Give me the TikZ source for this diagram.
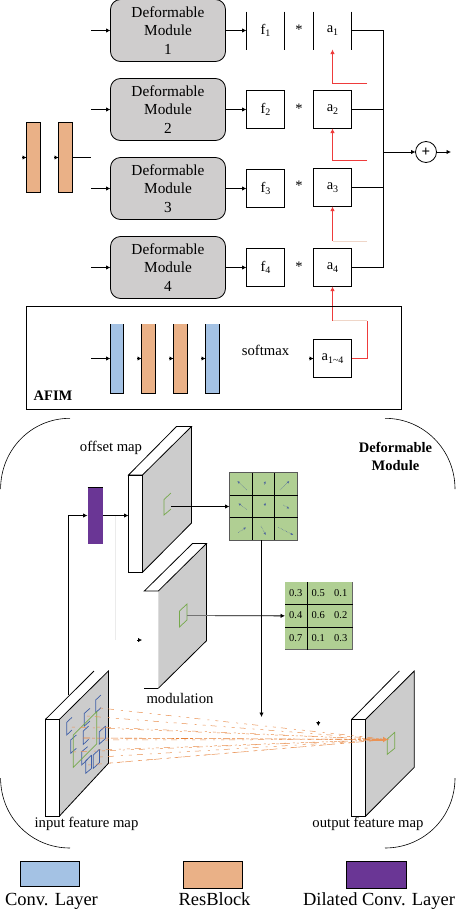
\documentclass[tikz,border=0pt]{standalone}
\usepackage{fontspec}
\setmainfont{Liberation Serif}
\usetikzlibrary{arrows.meta}
\definecolor{modgray}{HTML}{CFCDCD}
\definecolor{mapgray}{HTML}{CCCCCC}
\definecolor{barblue}{HTML}{A4C2E4}
\definecolor{barorange}{HTML}{EAB187}
\definecolor{barpurple}{HTML}{6A3695}
\definecolor{gridgreen}{HTML}{B0CF93}
\definecolor{sqgreen}{HTML}{76A94C}
\definecolor{sqblue}{HTML}{3F5FA8}
\definecolor{redline}{HTML}{EE3B3B}
\definecolor{paleline}{HTML}{EFD6C8}
\definecolor{rayorange}{HTML}{E67F36}
\newcommand\sbs[1]{\raisebox{-2.5pt}{\fontsize{10}{10}\selectfont #1}}
\tikzset{
  every node/.style={inner sep=0pt,outer sep=0pt},
  ln/.style={line width=0.8pt,black},
  arr/.style={ln,-{Latex[length=4.5pt,width=4.5pt]}},
  redarr/.style={line width=0.8pt,redline,-{Latex[length=4.5pt,width=4.5pt]}},
  redln/.style={line width=0.8pt,redline},
  tiponly/.style={ln,-{Latex[length=4pt,width=4.5pt]}},
  defmod/.style={draw=black,line width=0.8pt,fill=modgray,rounded corners=10pt,minimum width=115pt,minimum height=62pt,align=center,font=\fontsize{15.3}{18.3}\selectfont},
  valbox/.style={draw=black,line width=0.8pt,fill=white,minimum width=38pt,minimum height=38pt,font=\fontsize{14.5}{16}\selectfont},
  openbox/.style={minimum width=38pt,minimum height=38pt,font=\fontsize{14.5}{16}\selectfont},
  opstar/.style={font=\fontsize{14.5}{16}\selectfont},
  bar/.style={minimum width=14pt,minimum height=70pt},
  face/.style={draw=black,line width=0.8pt,fill=white,minimum width=14pt},
  lab/.style={font=\fontsize{14.7}{16}\selectfont},
  biglab/.style={font=\fontsize{18.5}{20}\selectfont,anchor=base},
  side/.style={fill=mapgray,draw=none},
  cellval/.style={font=\fontsize{10.5}{12}\selectfont},
  gridcell/.style={fill=gridgreen,minimum width=68pt,minimum height=67.7pt},
  bluesq/.style={line width=0.7pt,sqblue},
  greensq/.style={line width=0.7pt,sqgreen},
  ray/.style={line width=0.5pt,rayorange!85,dash pattern=on 3pt off 5pt on 6pt off 7pt on 2pt off 6pt},
  offs/.style={line width=0.5pt,sqblue!70!gray,densely dotted,-{Latex[length=2.5pt,width=2.5pt]}},
}
\begin{document}
\begin{tikzpicture}[x=1pt,y=-1pt]
\useasboundingbox (0,0) rectangle (456,910);
\fill[white] (0,0) rectangle (456,910);

% ---- deformable modules
\node[defmod] (dm1) at (168,30.5) {Deformable\\Module\\1};
\node[defmod] (dm2) at (168,109.5) {Deformable\\Module\\2};
\node[defmod] (dm3) at (168,188.5) {Deformable\\Module\\3};
\node[defmod] (dm4) at (168,267.5) {Deformable\\Module\\4};

\node[openbox] (f1) at (265.5,30.5) {f\sbs{1}};
\node[openbox] (a1) at (332.5,30.5) {a\sbs{1}};
\draw[ln] (f1.north west)--(f1.south west) (f1.north east)--(f1.south east);
\draw[ln] (a1.north west)--(a1.south west) (a1.north east)--(a1.south east);
\node[valbox] (f2) at (265.5,109.5) {f\sbs{2}};
\node[valbox] (a2) at (332.5,109.5) {a\sbs{2}};
\node[valbox] (f3) at (265.5,188.5) {f\sbs{3}};
\node[valbox] (a3) at (332.5,187.5) {a\sbs{3}};
\node[valbox] (f4) at (265.5,267.5) {f\sbs{4}};
\node[valbox] (a4) at (332.5,267.5) {a\sbs{4}};
\node[opstar] (s1) at (299,30) {*};
\node[opstar] (s2) at (299,109) {*};
\node[opstar] (s3) at (299,186) {*};
\node[opstar] (s4) at (299,267) {*};

\foreach \i in {1,2,3,4}{
  \draw[arr] (dm\i.east) -- (f\i.west);
}
\coordinate (in1) at (91,30.5);
\coordinate (in2) at (91,109.5);
\coordinate (in3) at (91,188.5);
\coordinate (in4) at (91,267.5);
\foreach \i in {1,2,3,4}{
  \draw[arr] (in\i) -- (dm\i.west);
}

% ---- sum
\node[draw=black,line width=0.8pt,circle,minimum size=21pt,font=\fontsize{15}{15}\selectfont\bfseries] (sum) at (426,152) {+};
\coordinate (bus1) at (383,30.5);
\coordinate (bus4) at (383,267.5);
\coordinate (busS) at (383,152);
\coordinate (outS) at (451,152);
\draw[ln] (a1.east) -- (bus1) -- (bus4) -- (a4.east);
\draw[ln] (a2.east) -- (a2.east -| bus1);
\draw[ln] (a3.east) -- (a3.east -| bus1);
\draw[arr] (busS) -- (sum.west);
\draw[arr] (sum.east) -- (outS);

% ---- red attention links
\coordinate (r1) at (367,83);
\coordinate (r1b) at (332.5,83);
\coordinate (r2) at (367,160.5);
\coordinate (r2b) at (332.5,160.5);
\coordinate (r3) at (367,241);
\coordinate (r3b) at (332.5,241);
\coordinate (r4b) at (332.5,320.5);
\coordinate (r4) at (367,320.5);
\draw[redarr] (r1) -- (r1b) -- (a1.south);
\draw[redarr] (r2) -- (r2b) -- (a2.south);
\draw[line width=0.8pt,paleline] (r3) -- (r3b);
\draw[redarr] (r3b) -- (a3.south);
\draw[redarr] (r4b) -- (a4.south);

% ---- left resblocks
\node[bar,fill=barorange,draw=black,line width=0.8pt] (lb1) at (33.5,157.5) {};
\node[bar,fill=barorange,draw=black,line width=0.8pt] (lb2) at (65.5,157.5) {};
\coordinate (lbT1) at (22,157.5);
\coordinate (lbT2) at (54,157.5);
\coordinate (lbE) at (91,157.5);
\draw[tiponly] (lbT1) -- (lb1.west);
\draw[tiponly] (lbT2) -- (lb2.west);
\draw[ln] (lb2.east) -- (lbE);

% ---- AFIM
\node[draw=black,line width=0.8pt,minimum width=375pt,minimum height=103pt] (afim) at (214,358) {};
\node[font=\fontsize{14.5}{16}\selectfont\bfseries] (afimlab) at (53,396) {AFIM};
\node[bar,fill=barblue,minimum width=13pt,minimum height=69.5pt] (ab1) at (117,358.75) {};
\node[bar,fill=barorange,minimum height=69.5pt] (ab2) at (148.5,358.75) {};
\node[bar,fill=barorange,minimum height=69.5pt] (ab3) at (180.5,358.75) {};
\node[bar,fill=barblue,minimum height=69.5pt] (ab4) at (212.5,358.75) {};
\foreach \b in {ab1,ab2,ab3,ab4}{
  \draw[ln] (\b.north west) -- (\b.south west) -- (\b.south east) -- (\b.north east);
}
\coordinate (afimIn) at (91,358.5);
\draw[arr] (afimIn) -- (afimIn -| ab1.west);
\coordinate (t2) at (137,358.5);
\coordinate (t3) at (169,358.5);
\coordinate (t4) at (201,358.5);
\coordinate (t5) at (309,358.5);
\draw[tiponly] (t2) -- (t2 -| ab2.west);
\draw[tiponly] (t3) -- (t3 -| ab3.west);
\draw[tiponly] (t4) -- (t4 -| ab4.west);
\node[lab] (softmax) at (265.5,350) {softmax};
\node[valbox] (a14) at (332.5,358.5) {a\sbs{1\textasciitilde4}};
\draw[tiponly] (t5) -- (a14.west);
\coordinate (r4c) at (367,358.5);
\draw[redln] (a14.east) -- (r4c) -- (r4);
\draw[line width=0.8pt,paleline] (r4) -- (r4b);

% ---- outer deformable module outline
\draw[line width=0.6pt] (70,418.3) .. controls (31,418.3) and (0.6,450) .. (0.6,489);
\draw[line width=0.6pt] (385,418.3) .. controls (424,418.3) and (455,450) .. (455,489);
\draw[line width=0.6pt] (0.6,778) .. controls (0.6,817) and (31,848) .. (70,848);
\draw[line width=0.6pt] (455,778) .. controls (455,817) and (424,848) .. (385,848);
\node[font=\fontsize{14.5}{18}\selectfont\bfseries,align=center] (dmtitle) at (395.5,456) {Deformable\\Module};
\node[lab] (offlab) at (111,448) {offset map};
\node[lab] (modlab) at (180,698) {modulation};

% ---- offset block
\fill[side] (142.5,475) -- (191.5,426.5) -- (191.5,523) -- (142.5,572.3) -- cycle;
\draw[ln] (191.5,426.5) -- (191.5,523) -- (142.5,572.3);
\draw[ln,fill=white] (128.5,475) -- (176.5,426.5) -- (191.5,426.5) -- (142.5,475) -- cycle;
\node[face,minimum height=97.3pt] (offF) at (135.5,523.65) {};
\draw[greensq] (171,493) -- (164,499.5) -- (164,515) -- (171,509);
\coordinate (offS) at (171,506.5);

% ---- modulation block
\fill[side] (158.3,591) -- (206.5,543.5) -- (206.5,640.7) -- (158.3,688.3) -- cycle;
\draw[ln] (206.5,543.5) -- (206.5,640.7) -- (158.3,688.3);
\draw[ln,fill=white] (144.3,591) -- (192.5,543.5) -- (206.5,543.5) -- (158.3,591) -- cycle;
\coordinate (modBL) at (144.3,688.3);
\coordinate (modBR) at (158.3,688.3);
\draw[ln] (modBL) -- (modBR);
\draw[greensq] (179.5,611) -- (187,604) -- (187,620) -- (179.5,627) -- cycle;
\coordinate (modS) at (187,615.8);
\coordinate (modMid) at (215,615.8);
\coordinate (faintA) at (115.5,516);
\coordinate (faintB) at (115.5,640);
\draw[line width=0.6pt,black!8] (faintA) -- (faintB);
\coordinate (modT0) at (137,640);
\coordinate (modT1) at (142,640);
\draw[tiponly] (modT0) -- (modT1);

% ---- purple layer
\node[fill=barpurple,minimum width=15.5pt,minimum height=56.4pt] (purple) at (95.25,515.5) {};
\draw[ln] (purple.north west) -- (purple.north east);

% ---- grids
\node[gridcell] (g1) at (263.5,506.5) {};
\draw[line width=0.8pt,black!65] (g1.north west) rectangle (g1.south east);
\coordinate (g1c1) at (252.3,472.7);
\coordinate (g1c2) at (274.3,472.7);
\coordinate (g1r1) at (229.5,495.3);
\coordinate (g1r2) at (229.5,517.3);
\draw[ln] (g1c1) -- (g1c1 |- g1.south) (g1c2) -- (g1c2 |- g1.south)
  (g1r1) -- (g1r1 -| g1.east) (g1r2) -- (g1r2 -| g1.east);
\foreach \xa/\ya/\xb/\yb in {560/60/532/33, 613/44/616/33, 660/60/688/33,
  560/118/535/100, 614/107/616/98, 670/105/688/116,
  535/188/558/172, 603/168/617/195, 655/172/700/195}{
  \draw[offs] ({60+\xa/3},{470+\ya/3}) -- ({60+\xb/3},{470+\yb/3});
}
\node[gridcell,minimum width=67.7pt] (g2) at (318.85,615.85) {};
\draw[line width=0.8pt,black!60] (g2.north east) -- (g2.south east) -- (g2.south west);
\coordinate (g2c) at (307.3,582);
\coordinate (g2r1) at (285,604.3);
\coordinate (g2r2) at (285,627.3);
\draw[ln] (g2c) -- (g2c |- g2.south) (g2r1) -- (g2r1 -| g2.east) (g2r2) -- (g2r2 -| g2.east);
\node[cellval] (v11) at (295.7,592.7) {0.3};
\node[cellval] (v12) at (318.3,592.7) {0.5};
\node[cellval] (v13) at (340.7,592.7) {0.1};
\node[cellval] (v21) at (295.7,615.3) {0.4};
\node[cellval] (v22) at (318.3,615.3) {0.6};
\node[cellval] (v23) at (340.7,615.3) {0.2};
\node[cellval] (v31) at (295.7,638) {0.7};
\node[cellval] (v32) at (318.3,638) {0.1};
\node[cellval] (v33) at (340.7,638) {0.3};

% ---- connectors of the module
\draw[arr] (offS) -- (g1.west);
\draw[line width=0.8pt,black!55] (modS) -- (modMid);
\draw[arr] (modMid) -- (g2.west);
\coordinate (g1out) at (261.5,540.3);
\coordinate (g1end) at (261.5,717);
\draw[arr] (g1out) -- (g1end);
\coordinate (stray0) at (318.3,721);
\coordinate (stray1) at (318.3,726);
\draw[tiponly] (stray0) -- (stray1);

% ---- input block
\fill[side] (59.5,719.3) -- (108.4,671) -- (108.4,763.3) -- (59.5,816) -- cycle;
\coordinate (inA) at (45.5,719.3);
\coordinate (inB) at (94,671);
\coordinate (inC) at (59.5,719.3);
\coordinate (inD) at (108.4,671);
\draw[ln] (inA) -- (inB) (inC) -- (inD) -- (108.4,763.3) -- (59.5,816);
\node[face,minimum height=96.7pt] (inF) at (52.5,767.65) {};
\coordinate (inTop) at (68.5,695);
\draw[arr] (inTop) |- (purple.west);
\draw[arr] (purple.east) -- (purple.east -| offF.west);

% blue sampling squares
\foreach \ax/\ay/\bx/\by/\cx/\cy/\dx/\dy in {
  126/112/110/127/110/165/126/150,
  213/45/197/60/197/98/213/83,
  180/85/163/100/163/138/180/123,
  176/138/160/153/160/193/176/178,
  139/165/122/180/122/220/139/205,
  227/138/208/155/208/192/227/175,
  173/200/155/215/155/255/173/238,
  185/225/167/243/167/280/185/265,
  208/208/190/225/190/265/208/248}{
  \draw[bluesq] ({30+\ax/3},{680+\ay/3}) -- ({30+\bx/3},{680+\by/3}) -- ({30+\cx/3},{680+\cy/3}) -- ({30+\dx/3},{680+\dy/3});
}
\draw[bluesq] ({30+227/3},{680+138/3}) -- ({30+227/3},{680+175/3});
\draw[bluesq] ({30+185/3},{680+225/3}) -- ({30+185/3},{680+265/3});
\draw[bluesq] ({30+208/3},{680+208/3}) -- ({30+208/3},{680+248/3});
\draw[greensq] (73.3,735) -- (96.7,711.7) -- (96.7,744) -- (73.3,767.3) -- cycle;

% ---- output block
\fill[side] (365.7,719.3) -- (414.3,671) -- (414.3,767.3) -- (365.7,816) -- cycle;
\coordinate (outA) at (351.7,719.3);
\coordinate (outB) at (399.3,671);
\coordinate (outC) at (365.7,719.3);
\coordinate (outD) at (414.3,671);
\draw[ln] (outA) -- (outB) (outC) -- (outD) -- (414.3,767.3) -- (365.7,816);
\node[face,minimum height=96.7pt] (outF) at (358.7,767.65) {};
\draw[greensq] (387.3,739) -- (394.7,732.3) -- (394.7,748.3) -- (387.3,754.3) -- cycle;

% ---- sampling rays
\coordinate (target) at (388,739.5);
\foreach \sx/\sy in {100/708, 72/727, 87/716, 97/727, 73/752, 98/750, 110/763, 88/765, 105/740, 100/757}{
  \draw[ray] (\sx,\sy) -- (target);
}
\coordinate (rayS) at (83,738);
\draw[line width=0.6pt,rayorange,dash pattern=on 7pt off 2pt on 3pt off 2pt] (rayS) -- (target);
\coordinate (blobS) at (372,739.5);
\draw[line width=2pt,rayorange!85,-{Latex[length=5pt,width=6pt]}] (blobS) -- (target);

\node[lab] (inlab) at (86.5,823.5) {input feature map};
\node[lab] (outlab) at (368,823.5) {output feature map};

% ---- legend
\node[fill=barblue,draw=black,line width=0.8pt,minimum width=59pt,minimum height=25.4pt] (lg1) at (50,874) {};
\node[fill=barorange,draw=black,line width=0.8pt,minimum width=59pt,minimum height=27pt] (lg2) at (213,874.8) {};
\node[fill=barpurple,draw=black,line width=0.8pt,minimum width=60pt,minimum height=27pt] (lg3) at (376.5,875) {};
\draw[line width=1.4pt] (lg3.north west) -- (lg3.north east);
\node[biglab] (lt1) at (51.5,905) {Conv. Layer};
\node[biglab] (lt2) at (214.5,905) {ResBlock};
\node[biglab] (lt3) at (379,905) {Dilated Conv. Layer};
\end{tikzpicture}
\end{document}
